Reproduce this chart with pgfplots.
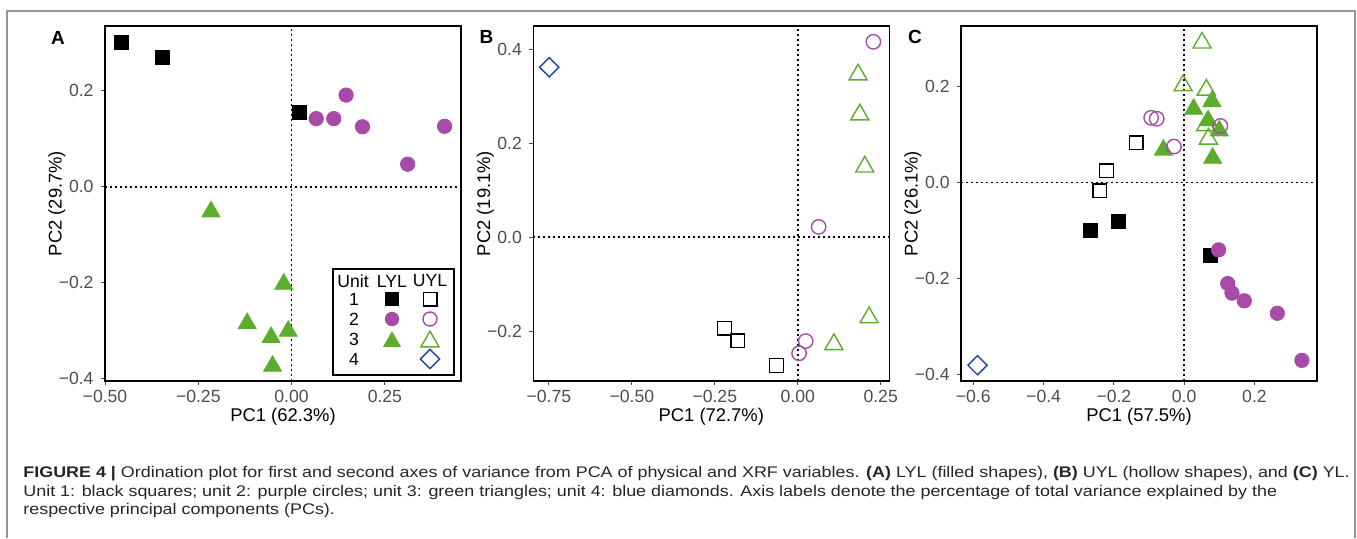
\documentclass[border=0pt]{standalone}
\usepackage{fontspec}
\setmainfont{Liberation Sans}
\usepackage{pgfplots}
\pgfplotsset{compat=1.18}
\usepackage{graphicx}

\definecolor{purp}{RGB}{168,75,168}
\definecolor{grn}{RGB}{92,172,46}
\definecolor{blu}{RGB}{28,68,160}
\definecolor{gray30}{RGB}{77,77,77}
\definecolor{framegray}{RGB}{150,150,150}

% 1 px of the reference = 0.5pt
\pgfplotsset{
  pca/.style={
    scale only axis, width=178pt, height=177.5pt, anchor=south west,
    clip=false,
    axis line style={line width=0.6pt, black},
    tick align=outside, major tick length=2.2pt,
    xtick pos=left, ytick pos=left,
    tick style={line width=0.5pt, color=gray30},
    ticklabel style={font=\fontsize{8.8}{10}\selectfont, text=gray30},
    xticklabel style={inner sep=1pt, yshift=-1.2pt},
    every axis x label/.style={at={(axis description cs:0.5,0)}, anchor=north,
      inner sep=0pt, yshift=-13.5pt, font=\fontsize{9.2}{11}\selectfont},
    every axis y label/.style={at={(axis description cs:-0.135,0.5)}, rotate=90, anchor=center,
      font=\fontsize{9.2}{11}\selectfont},
  },
  sqF/.style={only marks, mark=square*, mark size=3.5pt, mark options={draw=black, fill=black}},
  sqH/.style={only marks, mark=square, mark size=3.4pt, mark options={draw=black, line width=0.7pt}},
  ciF/.style={only marks, mark=*, mark size=3.6pt, mark options={draw=purp, fill=purp}},
  ciH/.style={only marks, mark=o, mark size=3.6pt, mark options={draw=purp, line width=0.7pt}},
  trF/.style={only marks, mark=triangle*, mark size=5.2pt, mark options={draw=grn, fill=grn}},
  trH/.style={only marks, mark=triangle, mark size=5.2pt, mark options={draw=grn, line width=0.7pt}},
  diH/.style={only marks, mark=square, mark size=3.4pt, mark options={draw=blu, line width=0.7pt, rotate=45}},
}
\tikzset{zeroline/.style={black, line width=0.8pt, dash pattern=on 0.8pt off 1.7pt}}
\newcommand\capline[1]{\scalebox{1.163}[1]{#1}}

\begin{document}
\begin{tikzpicture}
\useasboundingbox (0,0) rectangle (678.5pt,-269pt);
\draw[framegray, line width=0.8pt] (3.5pt,-269pt) -- (3.5pt,-5.5pt) -- (677.5pt,-5.5pt) -- (677.5pt,-269pt);

% ---------- A: LYL ----------
\begin{axis}[pca, at={(52.5pt,-190.5pt)},
  xmin=-0.5, xmax=0.454, ymin=-0.405, ymax=0.335,
  xtick={-0.5,-0.25,0,0.25}, xticklabels={−0.50,−0.25,0.00,0.25},
  ytick={-0.4,-0.2,0,0.2}, yticklabels={−0.4,−0.2,0.0,0.2},
  xlabel={PC1 (62.3\%)}, ylabel={PC2 (29.7\%)}]
\draw[zeroline] (axis cs:0,-0.405) -- (axis cs:0,0.335);
\draw[zeroline] (axis cs:-0.5,0) -- (axis cs:0.454,0);
\addplot[sqF] coordinates {(-0.457,0.301) (-0.347,0.270) (0.021,0.154)};
\addplot[trF] coordinates {(-0.216,-0.052) (-0.021,-0.203) (-0.119,-0.285) (-0.055,-0.314) (-0.009,-0.301) (-0.051,-0.374)};
\addplot[ciF] coordinates {(0.066,0.142) (0.113,0.142) (0.146,0.191) (0.190,0.125) (0.311,0.047) (0.410,0.126)};
\end{axis}

% ---------- B: UYL ----------
\begin{axis}[pca, at={(266.65pt,-190.5pt)},
  xmin=-0.797, xmax=0.276, ymin=-0.306, ymax=0.4496,
  xtick={-0.75,-0.5,-0.25,0,0.25}, xticklabels={−0.75,−0.50,−0.25,0.00,0.25},
  ytick={-0.2,0,0.2,0.4}, yticklabels={−0.2,0.0,0.2,0.4},
  xlabel={PC1 (72.7\%)}, ylabel={PC2 (19.1\%)}]
\draw[zeroline] (axis cs:0,-0.306) -- (axis cs:0,0.4496);
\draw[zeroline] (axis cs:-0.797,0) -- (axis cs:0.276,0);
\addplot[sqH] coordinates {(-0.221,-0.194) (-0.181,-0.220) (-0.064,-0.273)};
\addplot[trH] coordinates {(0.182,0.346) (0.187,0.261) (0.202,0.150) (0.215,-0.171) (0.109,-0.228)};
\addplot[ciH] coordinates {(0.228,0.416) (0.063,0.022) (0.024,-0.221) (0.004,-0.247)};
\addplot[diH] coordinates {(-0.749,0.362)};
\end{axis}

% ---------- C: YL ----------
\begin{axis}[pca, at={(480.5pt,-190.5pt)},
  xmin=-0.635, xmax=0.378, ymin=-0.413, ymax=0.326,
  xtick={-0.6,-0.4,-0.2,0,0.2}, xticklabels={−0.6,−0.4,−0.2,0.0,0.2},
  ytick={-0.4,-0.2,0,0.2}, yticklabels={−0.4,−0.2,0.0,0.2},
  xlabel={PC1 (57.5\%)}, ylabel={PC2 (26.1\%)}]
\draw[zeroline] (axis cs:0,-0.413) -- (axis cs:0,0.326);
\draw[zeroline] (axis cs:-0.635,0) -- (axis cs:0.378,0);
\addplot[sqH] coordinates {(-0.136,0.083) (-0.221,0.025) (-0.240,-0.017)};
\addplot[sqF] coordinates {(-0.267,-0.099) (-0.186,-0.080) (0.074,-0.151)};
\addplot[trH] coordinates {(0.051,0.291) (-0.003,0.202) (0.063,0.193) (0.061,0.119) (0.069,0.091)};
\addplot[trF] coordinates {(-0.059,0.068) (0.027,0.153) (0.079,0.169) (0.068,0.129) (0.100,0.108) (0.081,0.051)};
\addplot[ciF] coordinates {(0.098,-0.140) (0.124,-0.210) (0.136,-0.230) (0.171,-0.246) (0.265,-0.272) (0.335,-0.370)};
\addplot[ciH] coordinates {(-0.094,0.135) (-0.078,0.133) (-0.029,0.075) (0.103,0.118)};
\addplot[diH] coordinates {(-0.588,-0.380)};
\end{axis}

% ---------- legend of panel A ----------
\draw[black, line width=0.6pt] (166.5pt,-134.5pt) rectangle (227pt,-187.5pt);
\begin{scope}[every node/.style={font=\fontsize{8.8}{10}\selectfont, inner sep=0pt}]
\node at (176.5pt,-140.5pt) {Unit};
\node at (196pt,-140.5pt) {LYL};
\node at (215pt,-140.5pt) {UYL};
\node at (177pt,-149.5pt) {1};
\node at (177pt,-159.5pt) {2};
\node at (177pt,-169.5pt) {3};
\node at (177pt,-179.5pt) {4};
\end{scope}
\fill[black] (196pt,-149.5pt) +(-3.5pt,-3.5pt) rectangle +(3.5pt,3.5pt);
\draw[black, line width=0.7pt] (215pt,-149.5pt) +(-3.4pt,-3.4pt) rectangle +(3.4pt,3.4pt);
\fill[purp] (196pt,-159.5pt) circle (3.6pt);
\draw[purp, line width=0.7pt] (215pt,-159.5pt) circle (3.5pt);
\fill[grn, shift={(196pt,-170.8pt)}] (90:5.2pt) -- (210:5.2pt) -- (330:5.2pt) -- cycle;
\draw[grn, line width=0.7pt, shift={(215pt,-170.8pt)}] (90:5.2pt) -- (210:5.2pt) -- (330:5.2pt) -- cycle;
\draw[blu, line width=0.7pt, shift={(215pt,-179.5pt)}] (0,4.8pt) -- (4.8pt,0) -- (0,-4.8pt) -- (-4.8pt,0) -- cycle;

% ---------- panel letters ----------
\begin{scope}[every node/.style={font=\bfseries\fontsize{9.5}{10}\selectfont, inner sep=0pt}]
\node at (29pt,-19pt) {A};
\node at (243.3pt,-18.5pt) {B};
\node at (457.5pt,-18.5pt) {C};
\end{scope}

% ---------- caption ----------
\begin{scope}[every node/.style={anchor=base west, inner sep=0pt, text=black!85, font=\fontsize{7.7}{9}\selectfont}]
\node at (11.5pt,-238.5pt) {\capline{\textbf{FIGURE 4 |} Ordination plot for first and second axes of variance from PCA of physical and XRF variables. \textbf{(A)} LYL (filled shapes), \textbf{(B)} UYL (hollow shapes), and \textbf{(C)} YL.}};
\node at (11.5pt,-248pt) {\capline{Unit 1: black squares; unit 2: purple circles; unit 3: green triangles; unit 4: blue diamonds. Axis labels denote the percentage of total variance explained by the}};
\node at (11.5pt,-257pt) {\capline{respective principal components (PCs).}};
\end{scope}
\end{tikzpicture}
\end{document}
